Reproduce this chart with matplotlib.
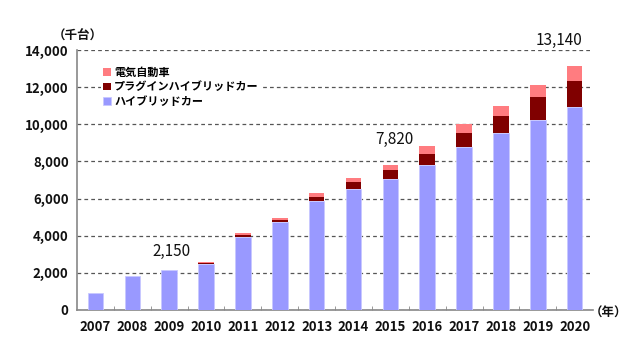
import matplotlib
matplotlib.use("Agg")
import matplotlib.pyplot as plt
import numpy as np

plt.rcParams['font.family'] = ['Noto Sans CJK JP', 'DejaVu Sans']

years = ['2007', '2008', '2009', '2010', '2011', '2012', '2013',
         '2014', '2015', '2016', '2017', '2018', '2019', '2020']
hybrid = [900, 1810, 2150, 2480, 3950, 4760, 5850,
          6530, 7050, 7790, 8800, 9520, 10250, 10950]
plugin = [0, 0, 0, 70, 90, 110, 250,
          340, 510, 630, 750, 930, 1220, 1400]
electric = [0, 0, 0, 20, 110, 100, 180,
            250, 260, 400, 480, 520, 630, 790]

notes = {2: '2,150', 8: '7,820', 13: '13,140'}
note_pos = {2: (0.05, 2700), 8: (0.1, 8750), 13: (-0.42, 14050)}

c_hv = '#9999ff'
c_phv = '#800000'
c_ev = '#ff7c80'

fig = plt.figure(figsize=(6.44, 3.6), dpi=100)
ax = fig.add_axes([0.1196, 0.139, 0.8014, 0.722])

x = np.arange(len(years))
w = 0.42
hv = np.array(hybrid)
phv = np.array(plugin)
ev = np.array(electric)

b1 = ax.bar(x, hv, w, color=c_hv, edgecolor='#c8c8ff', linewidth=0.6, zorder=3, label='ハイブリッドカー')
b2 = ax.bar(x, phv, w, bottom=hv, color=c_phv, linewidth=0, zorder=3, label='プラグインハイブリッドカー')
b3 = ax.bar(x, ev, w, bottom=hv + phv, color=c_ev, linewidth=0, zorder=3, label='電気自動車')

for i, txt in notes.items():
    dx, yy = note_pos[i]
    ax.text(i + dx, yy, txt, ha='center', va='bottom', fontsize=11, color='#111111')

ax.set_xlim(-0.5, 13.5)
ax.set_ylim(0, 14000)
ax.set_yticks(np.arange(0, 14001, 2000))
ax.set_yticklabels(['{:,}'.format(v) for v in range(0, 14001, 2000)])
ax.set_xticks(x)
ax.set_xticklabels(years)
ax.set_xticks(np.arange(0.5, 13, 1), minor=True)
ax.tick_params(axis='x', which='major', length=0, pad=7, labelsize=9.5)
ax.tick_params(axis='x', which='minor', length=3, direction='in', color='#888888')
ax.tick_params(axis='y', length=0, pad=6, labelsize=9.5)
for lab in ax.get_xticklabels() + ax.get_yticklabels():
    lab.set_fontweight('bold')
    lab.set_color('#111111')

ax.yaxis.grid(True, linestyle=(0, (3, 2.5)), color='#555555', linewidth=0.9, zorder=0)
ax.spines['top'].set_visible(False)
ax.spines['right'].set_visible(False)
ax.spines['left'].set_color('#888888')
ax.spines['bottom'].set_color('#888888')
ax.spines['left'].set_linewidth(1.2)
ax.spines['bottom'].set_linewidth(1.2)

fig.text(0.12, 0.9, '（千台）', ha='center', va='center', fontsize=9, fontweight='bold', color='#111111')
fig.text(0.945, 0.13, '（年）', ha='center', va='center', fontsize=9, fontweight='bold', color='#111111')

leg = ax.legend(handles=[b3, b2, b1], loc='upper left', bbox_to_anchor=(0.035, 0.97),
                frameon=True, fontsize=8, handlelength=0.7, handleheight=0.7,
                handletextpad=0.3, labelspacing=0.15, borderpad=0.2)
leg.get_frame().set_linewidth(0)
leg.get_frame().set_facecolor('white')
leg.get_frame().set_alpha(1)
for t in leg.get_texts():
    t.set_fontweight('bold')

fig.savefig('out.png', dpi=100)
